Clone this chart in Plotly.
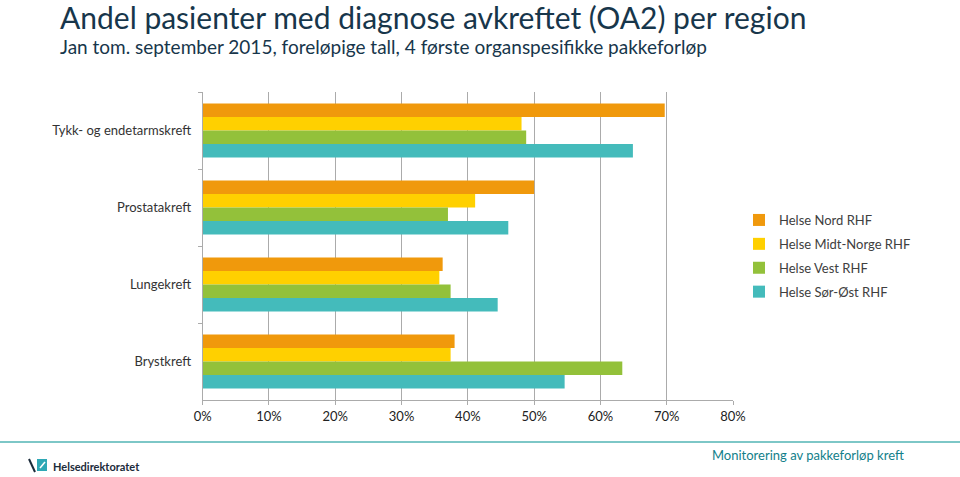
import plotly.graph_objects as go

categories = ["Tykk- og endetarmskreft", "Prostatakreft", "Lungekreft", "Brystkreft"]
series_names = ["Helse Nord RHF", "Helse Midt-Norge RHF", "Helse Vest RHF", "Helse Sør-Øst RHF"]
nord = [0.697, 0.500, 0.362, 0.380]
midt = [0.481, 0.411, 0.357, 0.374]
vest = [0.488, 0.370, 0.374, 0.633]
sorost = [0.649, 0.461, 0.445, 0.546]
x_ticks = [0, 0.1, 0.2, 0.3, 0.4, 0.5, 0.6, 0.7, 0.8]
x_tick_labels = ["0%", "10%", "20%", "30%", "40%", "50%", "60%", "70%", "80%"]

colors = ["#F0990C", "#FFD000", "#93C13A", "#44BBBB"]
values = [nord, midt, vest, sorost]

W, H = 960, 477


def px(x):
    return x / W


def py(y):
    return 1 - y / H


fig = go.Figure()
for name, vals, col in zip(series_names, values, colors):
    fig.add_trace(go.Bar(y=categories, x=vals, name=name, orientation="h", legendgroup=name,
                         marker=dict(color=col, line=dict(width=0))))

font_family = "Lato, 'Open Sans', sans-serif"
fig.update_layout(
    width=W, height=H, autosize=False,
    margin=dict(l=0, r=0, t=0, b=0, pad=0, autoexpand=False),
    paper_bgcolor="white", plot_bgcolor="white",
    barmode="group", bargap=0.30, bargroupgap=0,
    font=dict(family=font_family, size=13, color="#404040"),
    showlegend=True,
    legend=dict(x=px(739), y=py(256), xanchor="left", yanchor="middle",
                font=dict(size=13, color="#404040"), itemwidth=30,
                tracegroupgap=4, bgcolor="rgba(0,0,0,0)"),
    xaxis=dict(domain=[px(202.7), px(733)], range=[0, 0.8], tickvals=x_ticks, automargin=False,
               ticktext=x_tick_labels, showgrid=True, gridcolor="#ABABAB", gridwidth=1,
               showline=True, linecolor="#ABABAB", linewidth=1, zeroline=False,
               ticks="outside", ticklen=4, tickcolor="#ABABAB",
               tickfont=dict(size=13, color="#222222"), fixedrange=True),
    yaxis=dict(domain=[py(400), py(92)], autorange="reversed", showline=True, linecolor="#ABABAB",
               automargin=False,
               linewidth=1, ticks="outside", tickson="boundaries", ticklen=4, tickcolor="#ABABAB",
               tickfont=dict(size=13, color="#333333"), showgrid=False, ticklabelstandoff=8),
)

# title and subtitle
fig.add_annotation(text="Andel pasienter med diagnose avkreftet (OA2) per region",
                   x=px(58), y=py(17), xref="paper", yref="paper", xanchor="left", yanchor="middle",
                   showarrow=False, font=dict(size=30, color="#17364B", family=font_family))
fig.add_annotation(text="Jan tom. september 2015, foreløpige tall, 4 første organspesifikke pakkeforløp",
                   x=px(58), y=py(46.5), xref="paper", yref="paper", xanchor="left", yanchor="middle",
                   showarrow=False, font=dict(size=19, color="#17364B", family=font_family))

# footer line
fig.add_shape(type="line", xref="paper", yref="paper", x0=0, x1=1, y0=py(442), y1=py(442),
              line=dict(color="#7DC7C7", width=2))
fig.add_annotation(text="Monitorering av pakkeforløp kreft", x=px(906), y=py(455),
                   xref="paper", yref="paper", xanchor="right", yanchor="middle", showarrow=False,
                   font=dict(size=13, color="#12808A", family=font_family))
# logo
fig.add_shape(type="rect", xref="paper", yref="paper", x0=px(37), x1=px(47),
              y0=py(471), y1=py(459), fillcolor="#2EA8B5", line=dict(width=0))
fig.add_shape(type="line", xref="paper", yref="paper", x0=px(29), x1=px(35),
              y0=py(459), y1=py(472), line=dict(color="#1B2B3A", width=2))
fig.add_shape(type="line", xref="paper", yref="paper", x0=px(40), x1=px(45),
              y0=py(468), y1=py(462), line=dict(color="white", width=1.5))
fig.add_annotation(text="<b>Helsedirektoratet</b>", x=px(51), y=py(466),
                   xref="paper", yref="paper", xanchor="left", yanchor="middle", showarrow=False,
                   font=dict(size=11, color="#1B2B3A", family=font_family))

fig.write_html("out.html", config={"displayModeBar": False},
               post_script="document.body.style.margin='0px';document.body.style.overflow='hidden';")
